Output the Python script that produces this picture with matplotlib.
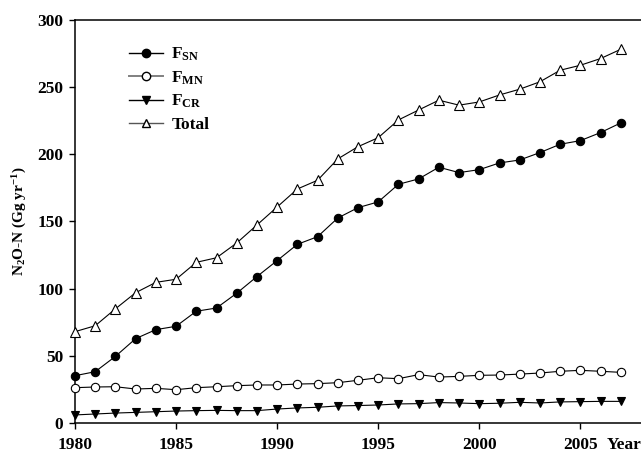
import numpy as np
import matplotlib
matplotlib.use('Agg')
import matplotlib.pyplot as plt
from matplotlib.lines import Line2D

plt.rcParams['font.family'] = ['Liberation Serif', 'DejaVu Serif']
plt.rcParams['font.weight'] = 'bold'
plt.rcParams['mathtext.fontset'] = 'custom'
plt.rcParams['mathtext.rm'] = 'Liberation Serif:bold'
plt.rcParams['mathtext.bf'] = 'Liberation Serif:bold'
plt.rcParams['mathtext.it'] = 'Liberation Serif:bold'
plt.rcParams['mathtext.default'] = 'bf'

# N2O-N emissions by source, 1980-2007 (Gg N yr-1)
years = np.arange(1980, 2008)
f_sn = [35.2, 38.2, 49.6, 62.8, 69.5, 72.0, 83.2, 85.6, 96.6, 109.0,
        120.9, 133.0, 138.7, 152.6, 160.3, 164.6, 177.7, 181.7, 190.4, 186.4,
        188.6, 193.6, 195.8, 201.3, 207.5, 210.2, 216.2, 223.4]
f_mn = [26.3, 26.8, 27.0, 25.3, 25.8, 24.8, 26.3, 27.0, 27.8, 28.3,
        28.3, 29.0, 29.3, 30.0, 31.8, 33.7, 33.0, 36.0, 34.2, 34.7,
        35.5, 35.7, 36.4, 37.2, 38.5, 39.2, 38.5, 37.7]
f_cr = [6.0, 6.7, 7.4, 7.9, 8.4, 8.9, 9.2, 9.4, 9.2, 9.2,
        10.4, 11.2, 11.7, 12.7, 13.0, 13.4, 14.2, 14.4, 15.2, 14.9,
        14.4, 14.7, 15.4, 14.9, 15.7, 15.9, 16.1, 16.1]
total = [68.0, 72.4, 85.0, 97.0, 104.7, 107.0, 119.6, 123.0, 134.0, 147.4,
         160.8, 174.2, 180.7, 196.6, 205.7, 212.4, 225.6, 233.0, 240.3, 236.6,
         239.0, 244.2, 248.5, 254.0, 262.6, 266.3, 271.3, 278.2]

fig = plt.figure(figsize=(6.41, 4.53), dpi=100)
ax = fig.add_axes([75 / 641, 30 / 453, 1 - 75 / 641, 403 / 453])

lw = 0.8
ax.plot(years, f_sn, color='black', lw=lw, marker='o', ms=6.0,
        mfc='black', mec='black', mew=0.8, clip_on=False, zorder=3)
ax.plot(years, f_mn, color='black', lw=lw, marker='o', ms=6.0,
        mfc='white', mec='black', mew=0.8, clip_on=False, zorder=3)
ax.plot(years, f_cr, color='black', lw=lw, marker='v', ms=6.3,
        mfc='black', mec='black', mew=0.8, clip_on=False, zorder=3)
ax.plot(years, total, color='black', lw=lw, marker='^', ms=6.5,
        mfc='white', mec='black', mew=0.8, clip_on=False, zorder=3)

ax.set_xlim(1980, 2008)
ax.set_ylim(0, 300)
ax.set_xticks(np.arange(1980, 2006, 5))
ax.set_yticks(np.arange(0, 301, 50))
ax.spines['right'].set_visible(False)
for s in ['left', 'bottom', 'top']:
    ax.spines[s].set_linewidth(1.1)
ax.tick_params(axis='both', direction='out', length=4.5, width=1.0,
               labelsize=12.5)
ax.tick_params(axis='x', pad=5.5)
ax.tick_params(axis='y', pad=4)

ax.set_ylabel('N$_2$O-N (Gg yr$^{-1}$)', fontsize=11, fontweight='bold',
              labelpad=6)
ax.annotate('Year', xy=(2006.3, 0), xycoords=('data', 'axes fraction'),
            xytext=(0, -10.2), textcoords='offset points',
            ha='left', va='top', fontsize=12.5, fontweight='bold')

handles = [
    Line2D([], [], color='black', lw=1.0, marker='o', ms=6, mfc='black', mec='black'),
    Line2D([], [], color='#808080', lw=1.4, marker='o', ms=6, mfc='white', mec='black'),
    Line2D([], [], color='black', lw=1.0, marker='v', ms=6, mfc='black', mec='black'),
    Line2D([], [], color='#555555', lw=1.0, marker='^', ms=6, mfc='white', mec='black'),
]
labels = ['F$_{SN}$', 'F$_{MN}$', 'F$_{CR}$', 'Total']
ax.legend(handles, labels, loc='upper left', bbox_to_anchor=(120 / 641, 1 - 37 / 453),
          bbox_transform=fig.transFigure, frameon=False,
          prop={'family': 'Liberation Serif', 'weight': 'bold', 'size': 12.5},
          handlelength=2.0, handletextpad=0.45, labelspacing=0.36, borderpad=0)

fig.savefig('out.png', dpi=100)
